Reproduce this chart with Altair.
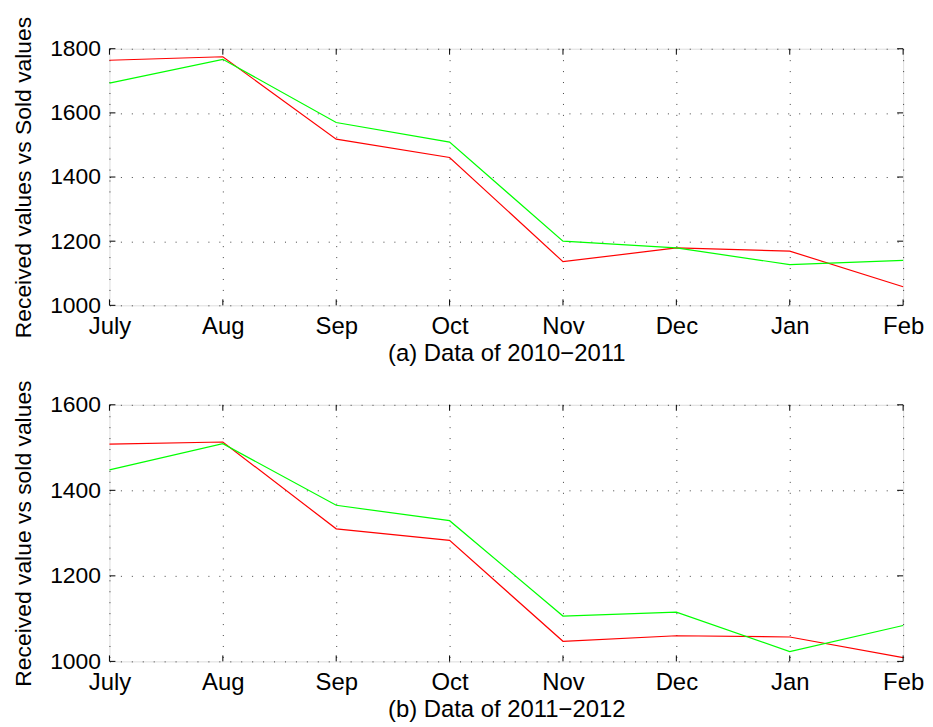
import altair as alt
import pandas as pd

months = ["July", "Aug", "Sep", "Oct", "Nov", "Dec", "Jan", "Feb"]
a_red = [1764, 1775, 1518, 1461, 1136, 1179, 1169, 1058]
a_green = [1693, 1767, 1570, 1509, 1200, 1179, 1127, 1140]
b_red = [1508, 1513, 1310, 1283, 1047, 1060, 1057, 1009]
b_green = [1448, 1509, 1365, 1329, 1106, 1115, 1023, 1084]
a_yticks = [1000, 1200, 1400, 1600, 1800]
b_yticks = [1000, 1200, 1400, 1600]
series_names = ["Received", "Sold"]
series_colors = ["#ff0000", "#00ff00"]

W, H = 798, 258
FONT = "Liberation Sans"
FS = 23
FSX = 24
TICK = 6


def panel(red, green, yticks, ytitle, xtitle):
    df = pd.DataFrame({
        "month": months * 2,
        "value": red + green,
        "series": [series_names[0]] * len(months) + [series_names[1]] * len(months),
    })
    xdf = pd.DataFrame({"month": months})
    ydf = pd.DataFrame({"value": yticks})

    x_enc = alt.X(
        "month:O", sort=months,
        scale=alt.Scale(type="point", padding=0),
        axis=alt.Axis(
            title=xtitle, labelAngle=0, ticks=False, domain=False,
            grid=True, gridDash=[1, 10], gridColor="#000", gridOpacity=0.75,
            labelFont=FONT, titleFont=FONT, labelFontSize=FSX, titleFontSize=FSX,
            labelColor="#000", titleColor="#000", titleFontWeight="normal",
            labelPadding=9, titlePadding=3,
        ),
    )
    y_enc = alt.Y(
        "value:Q",
        scale=alt.Scale(domain=[yticks[0], yticks[-1]], nice=False, zero=False),
        axis=alt.Axis(
            title=ytitle, values=yticks, format="d", ticks=False, domain=False,
            grid=True, gridDash=[1, 10], gridColor="#000", gridOpacity=0.75,
            labelFont=FONT, titleFont=FONT, labelFontSize=FS, titleFontSize=FS,
            labelColor="#000", titleColor="#000", titleFontWeight="normal",
            labelPadding=9, titlePadding=14,
        ),
    )

    lines = alt.Chart(df).mark_line(strokeWidth=1.2).encode(
        x=x_enc, y=y_enc,
        color=alt.Color("series:N", scale=alt.Scale(domain=series_names, range=series_colors), legend=None),
    )
    xt_bot = alt.Chart(xdf).mark_rule(color="#000", strokeWidth=1).encode(
        x=x_enc, y=alt.value(H), y2=alt.value(H - TICK))
    xt_top = alt.Chart(xdf).mark_rule(color="#000", strokeWidth=1).encode(
        x=x_enc, y=alt.value(0), y2=alt.value(TICK))
    yt_left = alt.Chart(ydf).mark_rule(color="#000", strokeWidth=1).encode(
        y=y_enc, x=alt.value(0), x2=alt.value(TICK))
    yt_right = alt.Chart(ydf).mark_rule(color="#000", strokeWidth=1).encode(
        y=y_enc, x=alt.value(W), x2=alt.value(W - TICK))
    return alt.layer(lines, xt_bot, xt_top, yt_left, yt_right).properties(width=W, height=H)


top = panel(a_red, a_green, a_yticks, "Received values vs Sold values", "(a) Data of 2010\u22122011")
bottom = panel(b_red, b_green, b_yticks, "Received value vs sold values", "(b) Data of 2011\u22122012")

chart = alt.vconcat(top, bottom, spacing=100, bounds="flush").properties(
    padding={"left": 4, "top": 5, "right": 0, "bottom": 0}
).configure_view(stroke="#000", strokeWidth=1.3).configure(background="white")

chart.save("out.html", embed_options={"renderer": "svg", "actions": False})
